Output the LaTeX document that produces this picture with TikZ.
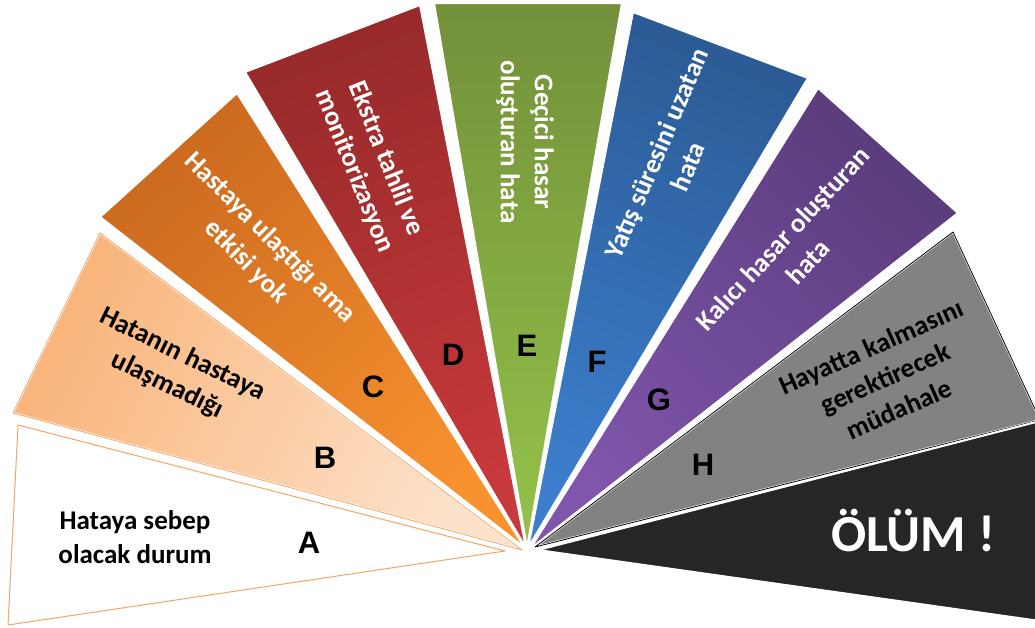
\documentclass[tikz,border=0pt]{standalone}
\usepackage{fontspec}
\newfontfamily\calib{Carlito}
\newfontfamily\arialf{Liberation Sans}
\definecolor{bTop}{HTML}{F9B47A}
\definecolor{bLow}{HTML}{FDE2CB}
\definecolor{cTop}{HTML}{CC6A1F}
\definecolor{cLow}{HTML}{F8922F}
\definecolor{dTop}{HTML}{982A2A}
\definecolor{dLow}{HTML}{C8393B}
\definecolor{eTop}{HTML}{73903A}
\definecolor{eLow}{HTML}{94C34A}
\definecolor{fTop}{HTML}{2C5B95}
\definecolor{fLow}{HTML}{3C7ECD}
\definecolor{gTop}{HTML}{5B3C7D}
\definecolor{gLow}{HTML}{7F56AB}
\definecolor{hFill}{HTML}{828282}
\definecolor{kFill}{HTML}{262626}
\definecolor{peachLine}{HTML}{F3A565}
\begin{document}
\begin{tikzpicture}[x=1pt,y=-1pt,
  wedge/.style={draw=white,line width=2pt,line join=round},
  caption/.style={font=\calib\bfseries\fontsize{27}{34}\selectfont,align=center,inner sep=0pt},
  letter/.style={font=\arialf\bfseries\fontsize{31}{33}\selectfont,inner sep=0pt}]
\useasboundingbox (0,0) rectangle (1035,627);

% fan of wedges, all pointing at the common centre
\path[wedge,fill=white,draw=peachLine,line width=1pt] (505,551) -- (18,425) -- (8,625) -- cycle;
\path[wedge,top color=bTop,bottom color=bLow,shading angle=64] (522,550) -- (13,413) -- (100,233) -- cycle;
\draw[peachLine,line width=0.8pt,line join=round] (522,550) -- (13,413) -- (100,233) -- cycle;
\path[wedge,top color=cTop,bottom color=cLow,shading angle=42] (525,548) -- (100,217) -- (237,93) -- cycle;
\path[wedge,top color=dTop,bottom color=dLow,shading angle=21] (526,548) -- (245,72) -- (420,5) -- cycle;
\path[wedge,top color=eTop,bottom color=eLow,shading angle=0] (527,548) -- (434,3) -- (622,3) -- cycle;
\path[wedge,top color=fTop,bottom color=fLow,shading angle=-21] (528,548) -- (633,12) -- (808,78) -- cycle;
\path[wedge,top color=gTop,bottom color=gLow,shading angle=-42] (530,549) -- (818,88) -- (958,213) -- cycle;
\path[wedge,fill=hFill] (535,547) -- (953,232) -- (1040,420) -- cycle;
\draw[black,line width=0.8pt,line join=round] (535,547) -- (953,232) -- (1040,420) -- cycle;
\path[wedge,fill=kFill] (538,550) -- (1040,421) -- (1040,621) -- cycle;

% captions
\node[caption] (ta) at (135,537) {Hataya sebep\\olacak durum};
\node[caption,rotate=-26] (tb) at (175,370) {Hatanın hastaya\\ulaşmadığı};
\node[caption,text=white,rotate=-45] (tc) at (258,250) {Hastaya ulaştığı ama\\etkisi yok};
\node[caption,text=white,rotate=-68] (td) at (370,165) {Ekstra tahlil ve\\monitorizasyon};
\node[caption,text=white,rotate=-90] (te) at (525,142) {Geçici hasar\\oluşturan hata};
\node[caption,text=white,rotate=67] (tf) at (672,160) {Yatış süresini uzatan\\hata};
\node[caption,text=white,rotate=47] (tg) at (795,250) {Kalıcı hasar oluşturan\\hata};
\node[caption,rotate=24] (th) at (885,378) {Hayatta kalmasını\\gerektirecek\\müdahale};
\node[font=\calib\bfseries\fontsize{52}{56}\selectfont,text=white,inner sep=0pt] (tk) at (913,531) {ÖLÜM !};

% grade letters
\node[letter] (la) at (309,543) {A};
\node[letter] (lb) at (325,458) {B};
\node[letter] (lc) at (373,387) {C};
\node[letter] (ld) at (453,355) {D};
\node[letter] (le) at (527,346) {E};
\node[letter] (lf) at (597,362) {F};
\node[letter] (lg) at (659,400) {G};
\node[letter] (lh) at (703,465) {H};
\end{tikzpicture}
\end{document}
